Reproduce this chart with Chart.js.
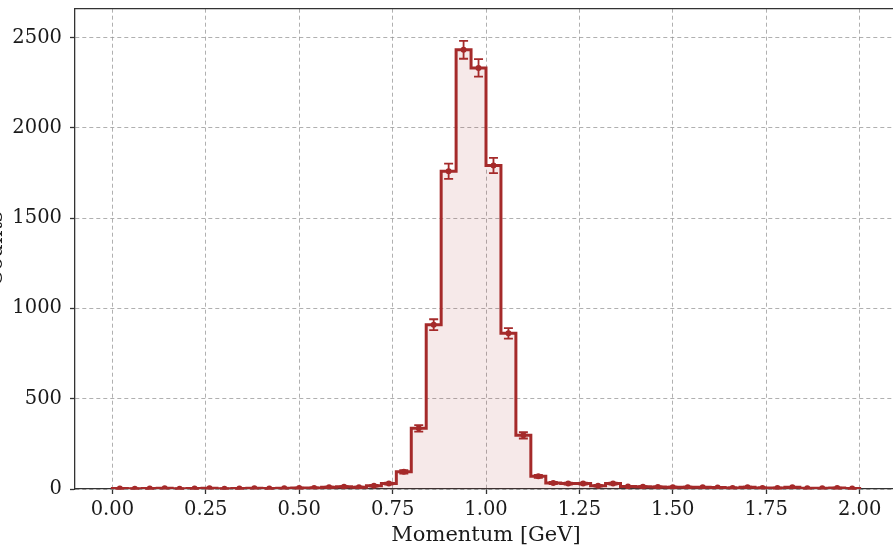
<!DOCTYPE html>
<html>
<head>
<meta charset="utf-8">
<script src="https://cdn.jsdelivr.net/npm/chart.js@4.4.1/dist/chart.umd.min.js"></script>
<style>
    html, body { margin: 0; padding: 0; background: #fff; overflow: hidden; }
    #wrap { position: absolute; left: -50px; top: -11px; width: 960px; height: 557px; }
</style>
</head>
<body>
<div id="wrap"><canvas id="myChart"></canvas></div>
<script>
// histogram: 50 bins of 0.04 GeV from 0 to 2 GeV
const binStart = 0.0;
const binWidth = 0.04;
const counts = [
    3, 2, 3, 4, 2, 3, 4, 2, 3, 4,
    3, 4, 5, 6, 10, 12, 10, 18, 30, 95,
    336, 910, 1760, 2432, 2332, 1792, 862, 297, 70, 33,
    30, 30, 18, 30, 14, 12, 11, 10, 10, 9,
    8, 6, 10, 6, 5, 9, 4, 4, 5, 3
];
const errors = [
    1.7, 1.4, 1.7, 2.0, 1.4, 1.7, 2.0, 1.4, 1.7, 2.0,
    1.7, 2.0, 2.2, 2.4, 3.2, 3.5, 3.2, 4.2, 5.5, 9.7,
    18.3, 30.2, 42.0, 49.3, 48.3, 42.3, 29.4, 17.2, 8.4, 5.7,
    5.5, 5.5, 4.2, 5.5, 3.7, 3.5, 3.3, 3.2, 3.2, 3.0,
    2.8, 2.4, 3.2, 2.4, 2.2, 3.0, 2.0, 2.0, 2.2, 1.7
];
const xTicks = [0, 0.25, 0.5, 0.75, 1.0, 1.25, 1.5, 1.75, 2.0];
const yTicks = [0, 500, 1000, 1500, 2000, 2500];

const lineColor = '#a52a2a';
const fillColor = 'rgba(165, 42, 42, 0.1)';
const gridColor = 'rgba(150, 150, 150, 0.75)';
const axisColor = '#333333';
const textColor = '#1a1a1a';

// outline of the histogram (left edge of each bin, closed down to zero at both ends)
var stepPoints = new Array();
var centerPoints = new Array();
stepPoints.push({ x: binStart, y: 0 });
counts.forEach((c, i) => {
    stepPoints.push({ x: binStart + i * binWidth, y: c });
    centerPoints.push({ x: binStart + (i + 0.5) * binWidth, y: c });
});
stepPoints.push({ x: binStart + counts.length * binWidth, y: counts[counts.length - 1] });
stepPoints.push({ x: binStart + counts.length * binWidth, y: 0 });

const errorBars = {
    id: 'errorBars',
    afterDatasetsDraw(chart) {
        const meta = chart.getDatasetMeta(1);
        const yScale = chart.scales.y;
        const ctx = chart.ctx;
        ctx.save();
        ctx.strokeStyle = lineColor;
        ctx.lineWidth = 1.8;
        meta.data.forEach((pt, i) => {
            const yTop = yScale.getPixelForValue(counts[i] + errors[i]);
            const yBot = yScale.getPixelForValue(counts[i] - errors[i]);
            ctx.beginPath();
            ctx.moveTo(pt.x, yTop);
            ctx.lineTo(pt.x, yBot);
            ctx.moveTo(pt.x - 4.5, yTop);
            ctx.lineTo(pt.x + 4.5, yTop);
            ctx.moveTo(pt.x - 4.5, yBot);
            ctx.lineTo(pt.x + 4.5, yBot);
            ctx.stroke();
        });
        ctx.restore();
    }
};

const frame = {
    id: 'frame',
    afterDraw(chart) {
        const a = chart.chartArea;
        const ctx = chart.ctx;
        ctx.save();
        ctx.strokeStyle = axisColor;
        ctx.lineWidth = 1.3;
        ctx.beginPath();
        ctx.moveTo(a.left, a.top);
        ctx.lineTo(a.right, a.top);
        ctx.lineTo(a.right, a.bottom);
        ctx.stroke();
        ctx.restore();
    }
};

const ctx = document.getElementById('myChart');

new Chart(ctx, {
    type: 'line',
    data: {
        datasets: [
            {
                label: 'Momentum',
                data: stepPoints,
                stepped: 'before',
                borderColor: lineColor,
                borderWidth: 3,
                backgroundColor: fillColor,
                fill: 'origin',
                pointRadius: 0
            },
            {
                type: 'scatter',
                label: 'errors',
                data: centerPoints,
                showLine: false,
                pointRadius: 3,
                pointBackgroundColor: lineColor,
                pointBorderWidth: 0
            }
        ]
    },
    plugins: [errorBars, frame],
    options: {
        responsive: true,
        maintainAspectRatio: false,
        animation: false,
        layout: { padding: { top: 8, right: 13, left: 0, bottom: 0 } },
        plugins: {
            legend: { display: false },
            tooltip: { enabled: false }
        },
        scales: {
            x: {
                type: 'linear',
                min: -0.1,
                max: 2.1,
                afterBuildTicks: axis => { axis.ticks = xTicks.map(v => ({ value: v })); },
                afterFit: scale => { scale.height = 57; },
                ticks: {
                    callback: v => v.toFixed(2),
                    color: textColor,
                    padding: 4,
                    maxRotation: 0,
                    font: { family: 'DejaVu Serif', size: 19.5 }
                },
                grid: {
                    color: gridColor,
                    lineWidth: 1,
                    tickLength: 5,
                    tickColor: axisColor,
                    tickWidth: 1.3
                },
                border: { color: axisColor, width: 1.3, dash: [4, 3] },
                title: {
                    display: true,
                    text: 'Momentum [GeV]',
                    color: textColor,
                    padding: 0,
                    font: { family: 'DejaVu Serif', size: 21, lineHeight: 1 }
                }
            },
            y: {
                min: 0,
                max: 2660,
                afterBuildTicks: axis => { axis.ticks = yTicks.map(v => ({ value: v })); },
                afterFit: scale => { scale.width = 125; },
                ticks: {
                    callback: v => String(v),
                    color: textColor,
                    padding: 8,
                    font: { family: 'DejaVu Serif', size: 19.5 }
                },
                grid: {
                    color: gridColor,
                    lineWidth: 1,
                    tickLength: 5,
                    tickColor: axisColor,
                    tickWidth: 1.3
                },
                border: { color: axisColor, width: 1.3, dash: [4, 3] },
                title: {
                    display: true,
                    text: 'Counts',
                    color: textColor,
                    padding: { top: 33.5, bottom: 0 },
                    font: { family: 'DejaVu Serif', size: 21, lineHeight: 1.2 }
                }
            }
        }
    }
});
</script>
</body>
</html>
